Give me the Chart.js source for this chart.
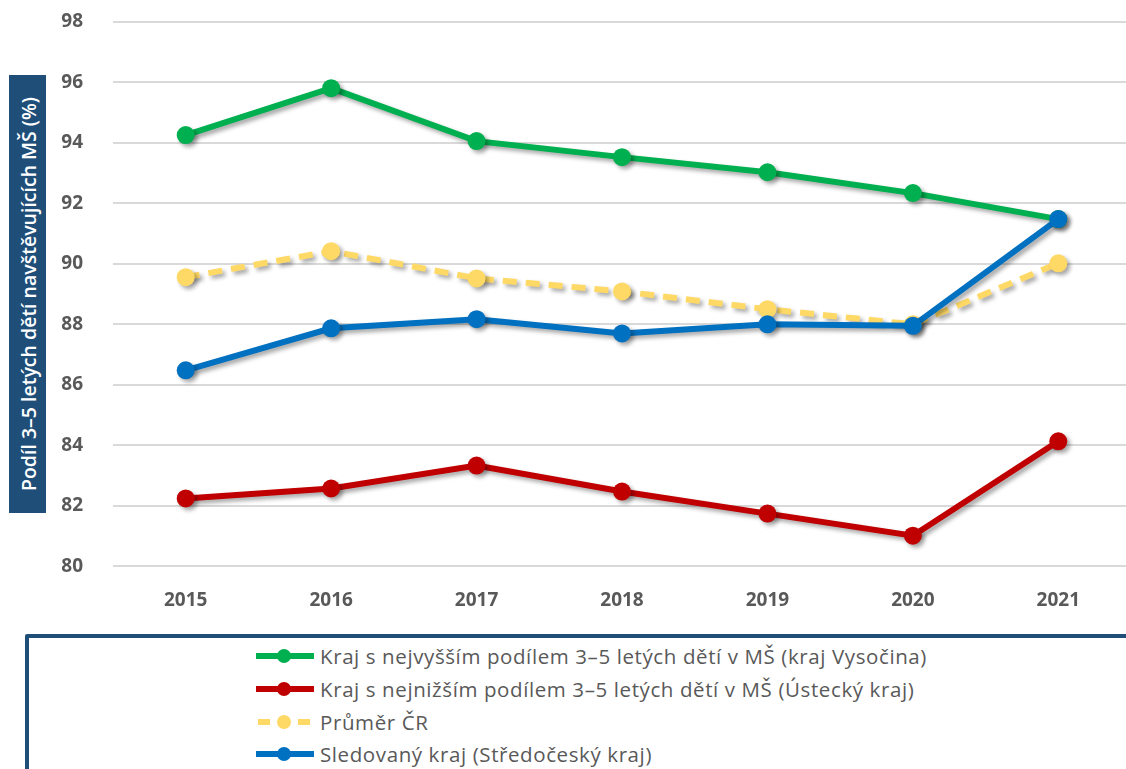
<!DOCTYPE html>
<html>
<head>
<meta charset="utf-8">
<script src="https://cdn.jsdelivr.net/npm/chart.js@4/dist/chart.umd.min.js"></script>
<style>
    html, body { margin: 0; padding: 0; background: #fff; overflow: hidden; }
    #wrap { position: relative; width: 1126px; height: 769px; overflow: hidden; }
    #chartBox { position: absolute; left: 0; top: 0; width: 1140px; height: 641px; }
    #yTitle {
        position: absolute; left: 9px; top: 75px; width: 37px; height: 438px;
        background: #1F4E79; color: #fff;
    }
    #yTitle span {
        position: absolute; left: 50%; top: 50%; white-space: nowrap;
        transform: translate(-50%, -50%) rotate(-90deg);
        font: 600 19.5px "Open Sans", sans-serif;
    }
    #legendBox {
        position: absolute; left: 25px; top: 634px; width: 1120px; height: 200px;
        border: 4px solid #1F4E79; box-sizing: border-box; border-radius: 2px;
        background: #fff;
    }
    #legend { position: absolute; left: 254px; top: 640px; }
    .row { display: flex; align-items: center; height: 32.7px; }
    .row span { font: 20.5px "Open Sans", sans-serif; color: #595959; margin-left: 4px; letter-spacing: 0.6px; }
</style>
</head>
<body>
<div id="wrap">
    <div id="chartBox"><canvas id="chartCanvas"></canvas></div>
    <div id="yTitle"><span>Podíl 3–5 letých dětí navštěvujících MŠ (%)</span></div>
    <div id="legendBox"></div>
    <div id="legend"></div>
</div>
<script>
let years = ["2015", "2016", "2017", "2018", "2019", "2020", "2021"];

let highest = [94.26, 95.81, 94.06, 93.53, 93.03, 92.34, 91.48];
let lowest = [82.24, 82.57, 83.33, 82.47, 81.74, 81.01, 84.13];
let average = [89.56, 90.42, 89.52, 89.09, 88.50, 88.00, 90.02];
let watched = [86.48, 87.87, 88.17, 87.70, 88.00, 87.95, 91.48];

let labels = [
    "Kraj s nejvyšším podílem 3–5 letých dětí v MŠ (kraj Vysočina)",
    "Kraj s nejnižším podílem 3–5 letých dětí v MŠ (Ústecký kraj)",
    "Průměr ČR",
    "Sledovaný kraj (Středočeský kraj)"
];
let colors = ["#00B050", "#C00000", "#FFD966", "#0070C0"];

function series(i, values, order, dash) {
    return {
        label: labels[i],
        data: values,
        borderColor: colors[i],
        backgroundColor: colors[i],
        borderWidth: 6,
        borderDash: dash || [],
        pointRadius: 9,
        pointBorderWidth: 0,
        pointHoverRadius: 9,
        tension: 0,
        order: order
    };
}

const shadow = {
    id: "shadow",
    beforeDatasetDraw(chart) {
        const ctx = chart.ctx;
        ctx.save();
        ctx.shadowColor = "rgba(0,0,0,0.35)";
        ctx.shadowBlur = 4;
        ctx.shadowOffsetX = 3;
        ctx.shadowOffsetY = 3;
    },
    afterDatasetDraw(chart) {
        chart.ctx.restore();
    }
};

let chart = new Chart(chartCanvas, {
    type: "line",
    data: {
        labels: years,
        datasets: [
            series(0, highest, 1),
            series(1, lowest, 2),
            series(2, average, 3, [14, 9]),
            series(3, watched, 0)
        ]
    },
    options: {
        responsive: true,
        maintainAspectRatio: false,
        animation: false,
        layout: { padding: { top: 22, right: 4, bottom: 14, left: 0 } },
        plugins: { legend: { display: false }, tooltip: { enabled: false } },
        scales: {
            x: {
                offset: true,
                grid: { display: false },
                border: { display: false },
                ticks: {
                    color: "#595959",
                    padding: 15,
                    font: { family: "Open Sans", size: 19, weight: "bold" }
                }
            },
            y: {
                min: 80,
                max: 98,
                grid: { color: "#D9D9D9", lineWidth: 2, drawTicks: false },
                border: { display: false },
                afterFit: s => {
                    s.width = 113;
                    // tick padding should not push the plot area down
                    s.paddingTop = 0;
                    s.paddingBottom = 0;
                },
                ticks: {
                    stepSize: 2,
                    color: "#595959",
                    padding: 30,
                    font: { family: "Open Sans", size: 19, weight: "bold" }
                }
            }
        }
    },
    plugins: [shadow]
});

// legend built from the datasets
const legend = document.getElementById("legend");
chart.data.datasets.forEach((ds, i) => {
    const row = document.createElement("div");
    row.className = "row";
    const dash = ds.borderDash.length ? 'stroke-dasharray="12 8" stroke-dashoffset="-2"' : "";
    row.innerHTML =
        `<svg width="62" height="20"><line x1="2" y1="10" x2="60" y2="10" stroke="${ds.borderColor}" stroke-width="6" ${dash}/>` +
        `<circle cx="30" cy="10" r="7" fill="${ds.borderColor}"/></svg><span>${ds.label}</span>`;
    legend.appendChild(row);
});
</script>
</body>
</html>
